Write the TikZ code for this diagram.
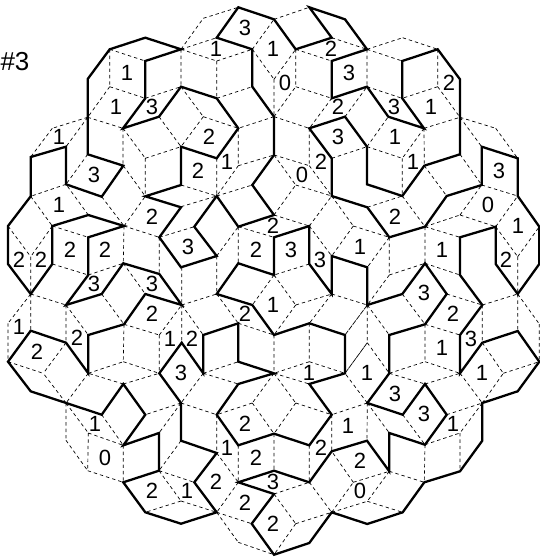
\documentclass[tikz,border=0pt]{standalone}
\usepackage{fontspec}
\setmainfont{Liberation Sans}
\tikzset{
  tiling/.style={line width=0.7pt,dash pattern=on 3.4pt off 3pt,black},
  trail/.style={line width=2.3pt,black,line join=miter,miter limit=6},
  digit/.style={inner sep=0pt,font=\fontsize{22}{22}\selectfont},
  title/.style={inner sep=0pt,font=\fontsize{26}{26}\selectfont}
}
\begin{document}
\begin{tikzpicture}[x=1pt,y=-1pt]
\useasboundingbox (0,0) rectangle (540,558);
\draw[tiling]
(109.7,49.3)--(145.3,61) (109.7,49.3)--(109.7,86.7) (109.7,86.7)--(145.3,98.3) (109.7,86.7)--(87.7,117.3)
(87.7,117.3)--(123,128.3) (87.7,117.3)--(52.3,128.3) (52.3,128.3)--(30.7,157) (87.7,117.3)--(66,146.7)
(87.7,154.3)--(66,184.3) (145.3,98.3)--(181,86.7) (181,49.3)--(181,86.7) (123,128.3)--(123,165.7)
(123,128.3)--(145.3,158.3) (145.3,158.3)--(181,146.7) (145.3,158.3)--(145.3,196.3) (123.3,165.7)--(145.3,196.3)
(66,184.3)--(30.7,196.3) (159,116.7)--(181,146.7)
(181,49.3)--(203.3,18.3) (203.3,18.3)--(238.3,7.3) (181,49.3)--(216.7,37.7) (181,49.3)--(216.7,61)
(216.7,61)--(252.3,49.3) (216.7,61)--(216.7,98.3) (216.7,98.3)--(252.3,86.7) (181,86.7)--(203.3,116.7)
(203.3,116.7)--(238.3,128.3) (203.3,116.7)--(181,146.7)
(252.3,49.3)--(274,19.3) (252.3,49.3)--(274,79.3) (274,19.3)--(309.3,7.3) (274,79.3)--(295.7,49.3)
(274,79.3)--(274,116.7) (274,116.7)--(295.7,86.7) (295.7,49.3)--(295.7,86.7) (295.7,86.7)--(331.7,98.3)
(295.7,49.3)--(331.7,61) (274,116.7)--(309.3,128.3) (274,116.7)--(238.3,128.3) (238.3,128.3)--(238.3,165.7)
(238.3,165.7)--(274,155) (216.7,158.3)--(216.7,196) (238.3,165.7)--(216.7,196) (181,185)--(216.7,196)
(216.7,196)--(252.3,185) (274,155)--(295.7,185) (274,155)--(309.3,165.7) (309.3,128.3)--(309.3,165.7)
(309.3,165.7)--(331.7,196) (295.7,185)--(331.7,196) (331.7,98.3)--(309.3,128.3) (331.7,158.3)--(367,146.7)
(345,116.7)--(367,86.7) (331.7,37.7)--(367,49.3) (367,49.3)--(367,86.7) (367,49.3)--(402.3,61)
(367,49.3)--(402.7,37.7) (402.7,37.7)--(437.7,49.3) (437.7,49.3)--(437.7,86.7) (437.7,86.7)--(402.3,98.3)
(437.7,86.7)--(460,117.3) (424,128.3)--(460,117.3) (460,117.3)--(495.7,128.3) (495.7,128.3)--(517.7,158.3)
(460,117.3)--(481.7,146.7) (460,154.3)--(481.7,185) (367,86.7)--(402.3,98.3) (367,146.7)--(388.3,116.7)
(424,128.3)--(424.3,165.7) (424,128.3)--(402.3,158.3) (367,146.7)--(402.3,158.3) (402.3,158.3)--(402.3,196)
(424.3,165.7)--(446.7,196) (481.7,185)--(517.7,196)
(367.3,207.3)--(402.3,196) (402.3,196)--(425,226.7) (425,226.7)--(460,215) (460,215)--(481.7,185)
(460,215)--(495.7,226.7) (495.7,226.7)--(517.7,196) (495.7,226.7)--(517.7,256.7) (517.7,256.7)--(539.3,226.7)
(517.7,256.7)--(517.7,294) (425,226.7)--(460,237.3) (425,226.7)--(425,263.3) (425,263.3)--(460,275)
(389.3,237.3)--(389.3,275) (389.3,275)--(425,263.3) (389.3,237.3)--(367.3,267.3) (389.3,275)--(367.3,305)
(353.3,226)--(389.3,237.3) (331.7,196)--(353.3,226) (353.3,226)--(331.7,256) (309.3,226)--(331.7,196)
(309.3,226)--(331.7,256) (309.3,264)--(274,275) (274,275)--(295.7,305) (274,275)--(252.3,305)
(295.7,305)--(331.7,294) (295.7,305)--(274,335) (331.7,294)--(367.3,305) (331.7,294)--(309.3,323.3)
(367.3,305)--(345,335) (367.3,305)--(389.3,335) (367.3,305)--(367.3,342.7) (367.3,342.7)--(389.3,373.3)
(367.3,342.7)--(345,373.3) (402.3,294)--(425,324.3) (446.7,294)--(482.3,305) (482.3,305)--(482.3,342.7)
(425,324.3)--(460,335) (425,324.3)--(425,361.7) (389.3,373.3)--(425,361.7) (425,361.7)--(460,373.3)
(482.3,305)--(517.7,294) (517.7,294)--(517.7,331) (517.7,294)--(539.3,324) (539.3,324)--(539.3,361.7)
(482.3,342.7)--(503.3,373.3) (503.3,373.3)--(539.3,361.7) (482.3,403)--(503.3,373.3) (460,373.3)--(482.3,403)
(446.7,414.7)--(482.3,403) (482.3,403)--(460,433) (425,444.7)--(460,433) (460,433)--(460,471.3)
(425,444.7)--(424.3,482.3) (389.3,471.3)--(424.3,482.3) (389.3,471.3)--(367.3,501.3) (367.3,501.3)--(402.7,512.3)
(331.7,512.3)--(367.3,501.3) (309.3,482.3)--(331.7,512.3) (331.7,512.3)--(353.3,482.3) (353.3,482.3)--(331.7,451.3)
(353.3,482.3)--(389.3,471.3) (367.3,403)--(389.3,433) (367.3,403)--(367,440.7) (402.7,414.7)--(425,444.7)
(425,384)--(460,373.3) (389.3,373.3)--(425,384) (367.3,403)--(331.7,414.7) (367.3,403)--(345,373.3)
(274,373.3)--(309.3,384) (274,373.3)--(252.3,403) (274,373.3)--(295.7,403) (252.3,403)--(216.7,414.7)
(252.3,403)--(274,433.7) (295.7,403)--(274,433.7) (295.7,403)--(331.7,414.7) (274,433.7)--(274,470.7)
(238.3,445.3)--(238.3,482.3) (309.3,445.3)--(309.3,482.3) (331.7,414.7)--(331.7,451.3) (216.7,414.7)--(216.7,453)
(216.7,453)--(238.3,482.3) (238.3,482.3)--(216.7,512.3) (216.7,512.3)--(251.7,523.7) (216.7,512.3)--(238.3,542.3)
(238.3,542.3)--(274,554.7) (274,494)--(309.3,482.3) (274,494)--(295.7,523.7) (295.7,523.7)--(331.7,512.3)
(295.7,523.7)--(274,554.7) (181,403)--(216.7,414.7) (203.3,373.3)--(181,403) (203.3,373.3)--(238.3,384)
(181,440.7)--(159,470.7) (181,403)--(159,433) (181,403)--(145.3,414.7) (159,470.7)--(181,501)
(181,501)--(145.3,512.3) (181,501)--(216.7,512.3) (159,470.7)--(194.3,482.3)
(123.3,384)--(88.3,373.3) (123.3,384)--(159.3,373.3) (88.3,373.3)--(66,403) (66,403)--(43.3,373.3)
(66,403)--(66,440.3) (66,440.3)--(87.7,470.7) (66,403)--(88.3,433) (88.3,433)--(87.7,470.7)
(88.3,433)--(123.3,445.3) (87.7,470.7)--(123.3,482.3) (101.7,414.7)--(123.3,445.3) (123.3,445.3)--(123.3,482.3)
(30.7,196.3)--(52.3,226) (30.7,294)--(30.7,330.7) (8,226)--(30.7,256.7) (52.3,226)--(30.7,256.7)
(30.7,256.7)--(30.7,294) (52.3,226)--(88.3,237.3) (52.3,264)--(88.3,275) (88.3,275)--(123.3,263.3)
(124,226)--(123.3,263.3) (124,226)--(159.3,237.3) (124,226)--(145.3,196.3) (88.3,215)--(66,184.3)
(123.3,263.3)--(145.3,294) (101.7,294)--(124,324.3) (66,305)--(88.3,335) (66,305)--(66,342.7)
(30.7,294)--(66,305) (30.7,294)--(8,323.3) (8,323.3)--(8,361.7) (8,361.7)--(43.3,373.3)
(66,342.7)--(43.3,373.3) (124,324.3)--(159.3,335) (124,324.3)--(123.3,361.7) (88.3,373.3)--(123.3,361.7)
(123.3,361.7)--(159.3,373.3) (159.3,335)--(159.3,373.3) (159.3,335)--(181.7,305) (181.7,305)--(181.7,342.7)
(159.3,237.3)--(159.3,274) (159.3,237.3)--(194.3,226.7) (181.7,267.3)--(181.7,305) (181.7,305)--(216.7,294)
(181.7,305)--(203.3,335) (216.7,256)--(216.7,294) (216.7,294)--(238.3,263.3) (216.7,256)--(238.3,226.7)
(238.3,226.7)--(238.3,263.3) (238.3,226.7)--(274,237.3) (274,215)--(309.3,226) (274,215)--(295.7,185)
(181,206.7)--(216.7,196) (238.3,323.3)--(274,335) (216.7,294)--(238.3,323.3) (274,335)--(274,373.3)
(309.3,323.3)--(309.3,361.7) (309.3,361.7)--(274,373.3) (309.3,361.7)--(345,373.3) (203.3,373.3)--(238.3,361.7)
(345,335)--(367.3,305) (345,373.3)--(367.3,342.7) (101.7,196.7)--(124,226);
\draw[trail]
(87.7,79)--(109.7,49.3)--(145.3,37.7)--(181,49.3)--(145.3,61)--(145.3,98.3)--(123,128.3)--(159,116.7)--(181,86.7)
--(216.7,98.3)--(238.3,128.3)--(216.7,158.3)--(181,146.7)--(181,185)--(145.3,196.3)--(181,207.3)--(159.3,237.3)
--(181,267.3)--(216.7,256)--(194.3,226.7)--(216.7,196)--(238.3,226.7)--(274,215)--(252.3,185)--(274,155)
--(274,116.7)--(252.3,86.7)--(252.3,49.3)--(216.7,37.7)--(238.3,7.3)--(274,19.3)--(295.7,49.3)--(331.7,37.7)
--(309.3,7.3)--(345,19.3)--(367,49.3)--(331.7,61)--(331.7,98.3)--(367,86.7)--(388.3,116.7)--(424,128.3)
--(402.3,98.3)--(402.3,61)--(437.7,49.3)--(460,79.3)--(460,154.3)--(424.3,165.7)--(402.3,196)--(367,184.3)
--(367,146.7)--(345,116.7)--(309.3,128.3)--(331.7,158.3)--(331.7,196)--(367.3,207.3)--(389.3,237.3)--(425,226.7)
--(446.7,196)--(481.7,185)--(481.7,146.7)--(517.7,158.3)--(517.7,196)--(539.3,226.7)--(539.3,264)--(517.7,294)
--(495.7,264)--(495.7,226.7)--(460,237.3)--(460,275)--(482.3,305)--(460,335)--(460,373.3)--(482.3,342.7)
--(517.7,331)--(539.3,361.7)--(517.7,391.3)--(482.3,403)--(482.3,440.7)--(460,471.3)--(424.3,482.3)--(402.7,512.3)
--(367.3,524)--(331.7,512.3)--(309.3,543)--(274,554.7)--(251.7,523.7)--(274,494)--(238.3,482.3)--(274,470.7)
--(309.3,482.3)--(331.7,451.3)--(367,440.7)--(389.3,471.3)--(389.3,433)--(425,444.7)--(446.7,414.7)--(425,384)
--(402.7,414.7)--(367.3,403)--(389.3,373.3)--(389.3,335)--(425,324.3)--(446.7,294)--(425,263.3)--(402.3,294)
--(367.3,305)--(367.3,267.3)--(331.7,256)--(331.7,294)--(309.3,264)--(309.3,226)--(274,237.3)--(274,275)
--(238.3,263.3)--(216.7,294)--(252.3,305)--(274,335)--(309.3,323.3)--(345,335)--(345,373.3)--(309.3,384)
--(331.7,414.7)--(309.3,445.3)--(274,433.7)--(238.3,445.3)--(216.7,414.7)--(238.3,384)--(274,373.3)--(238.3,361.7)
--(238.3,323.3)--(203.3,335)--(203.3,373.3)--(181.7,342.7)--(159.3,373.3)--(181,403)--(181,440.7)--(216.7,453)
--(194.3,482.3)--(216.7,512.3)--(181,523.7)--(145.3,512.3)--(123.3,482.3)--(159,470.7)--(159,433)--(123.3,445.3)
--(145.3,414.7)--(123.3,384)--(101.7,414.7)--(30.7,391.3)--(8,361.7)--(30.7,330.7)--(66,342.7)--(88.3,373.3)
--(88.3,335)--(124,324.3)--(145.3,294)--(181.7,305)--(159.3,274)--(123.3,263.3)--(101.7,294)--(66,305)
--(88.3,275)--(88.3,237.3)--(124,226)--(88.3,215)--(52.3,226)--(52.3,264)--(30.7,294)--(8,264)--(8,226)
--(30.7,196.3)--(30.7,157)--(66,146.7)--(66,184.3)--(101.7,196.7)--(123.3,165.7)--(87.7,154.3)--cycle;
\node[title] (tag) at (15,62) {\#3};
\foreach \px/\py/\t [count=\n] in {
127/73/1,116/107/1,152/107/3,59/137/1,94/175/3,
245/28/3,216/49/1,273/49/1,285/83/0,331/49/2,349/73/3,338/107/2,209/137/2,338/137/3,227/162/1,198/171/2,321/162/2,302/175/0,
394/107/3,431/107/1,449/83/2,395/137/1,413/162/1,499/171/3,
59/205/1,152/217/2,19/260/2,41/260/2,70/250/2,105/250/2,94/284/3,152/284/3,188/247/3,152/314/2,77/338/2,19/327/1,37/352/2,170/339/1,
273/226/2,256/250/2,291/250/3,320/260/3,360/247/1,273/305/1,245/314/2,192/339/2,309/373/1,
488/205/0,395/217/2,518/226/1,442/250/1,506/260/2,424/293/3,453/314/2,471/339/3,442/348/1,367/373/1,482/373/1,
95/424/1,105/458/0,152/491/2,187/491/1,181/373/3,
245/424/2,227/448/1,256/458/2,216/482/2,273/482/3,245/503/2,273/524/2,321/448/2,348/426/1,360/461/2,360/491/0,
395/394/3,424/414/3,453/424/1}
  \node[digit] (n\n) at (\px,\py) {\t};
\end{tikzpicture}
\end{document}
